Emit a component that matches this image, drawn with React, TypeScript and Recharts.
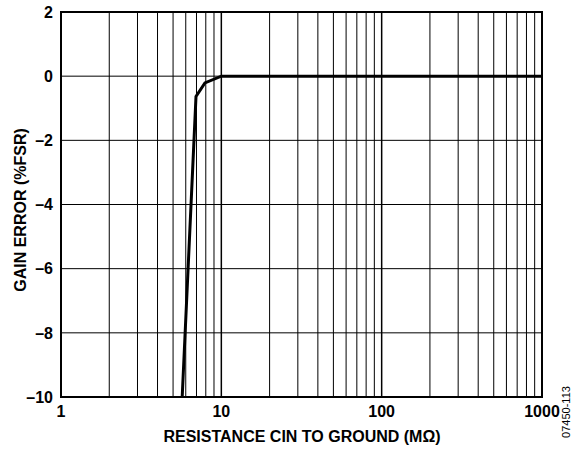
import React from 'react';
import {
    LineChart,
    Line,
    XAxis,
    YAxis,
    CartesianGrid,
    ReferenceLine,
    ReferenceArea
} from 'recharts';

// resistance (MΩ) vs gain error (%FSR)
const resistance = [5.7, 6.95, 7.9, 10, 100, 1000];
const gainError = [-10, -0.63, -0.21, 0, 0, 0];

const xTicks = [1, 10, 100, 1000];
const yTicks = [-10, -8, -6, -4, -2, 0, 2];
// log grid lines between the decades
const xGrid = [2, 3, 4, 5, 6, 7, 8, 9, 10, 20, 30, 40, 50, 60, 70, 80, 90, 100, 200, 300, 400, 500, 600, 700, 800, 900];

const data = resistance.map((r, i) => ({ r, err: gainError[i] }));

const FONT = 'Arial, "Liberation Sans", Helvetica, sans-serif';
const W = 571;
const H = 450;

const fmtY = (v: number) => (v < 0 ? '\u2013' + Math.abs(v) : String(v));

export default function App() {
    return (
        <div style={{ position: 'absolute', left: 0, top: 0, width: W, height: H, background: '#fff' }}>
            <LineChart
                width={W}
                height={H}
                data={data}
                margin={{ top: 12, right: 29, left: 0, bottom: 0 }}
            >
                <CartesianGrid vertical={false} stroke="#000" strokeWidth={1} />
                {xGrid.map((v) => (
                    <ReferenceLine
                        key={v}
                        x={v}
                        stroke="#000"
                        strokeWidth={v === 10 || v === 100 ? 1.5 : 1}
                    />
                ))}
                <XAxis
                    dataKey="r"
                    type="number"
                    scale="log"
                    domain={[1, 1000]}
                    ticks={xTicks}
                    allowDataOverflow
                    axisLine={false}
                    tickLine={false}
                    tickSize={0}
                    tickMargin={9}
                    height={53}
                    tick={{ fill: '#000', fontSize: 16, fontWeight: 700, fontFamily: FONT }}
                />
                <YAxis
                    type="number"
                    domain={[-10, 2]}
                    ticks={yTicks}
                    axisLine={false}
                    tickLine={false}
                    tickSize={0}
                    tickMargin={8}
                    width={61}
                    tickFormatter={fmtY}
                    tick={{ fill: '#000', fontSize: 16, fontWeight: 700, fontFamily: FONT }}
                />
                <ReferenceArea
                    x1={1}
                    x2={1000}
                    y1={-10}
                    y2={2}
                    fill="none"
                    stroke="#000"
                    strokeWidth={2}
                    ifOverflow="visible"
                />
                <Line
                    type="linear"
                    dataKey="err"
                    stroke="#000"
                    strokeWidth={3}
                    dot={false}
                    isAnimationActive={false}
                />
            </LineChart>
            <svg
                width={W}
                height={H}
                style={{ position: 'absolute', left: 0, top: 0, pointerEvents: 'none' }}
            >
                <text
                    x={302}
                    y={442}
                    textAnchor="middle"
                    fontFamily={FONT}
                    fontSize={16}
                    fontWeight={700}
                    fill="#000"
                >
                    RESISTANCE CIN TO GROUND (MΩ)
                </text>
                <text
                    transform="translate(26, 210) rotate(-90)"
                    textAnchor="middle"
                    fontFamily={FONT}
                    fontSize={16}
                    fontWeight={700}
                    fill="#000"
                >
                    GAIN ERROR (%FSR)
                </text>
                <text
                    transform="translate(570, 412) rotate(-90)"
                    textAnchor="middle"
                    fontFamily={FONT}
                    fontSize={11}
                    fill="#000"
                >
                    07450-113
                </text>
            </svg>
        </div>
    );
}
